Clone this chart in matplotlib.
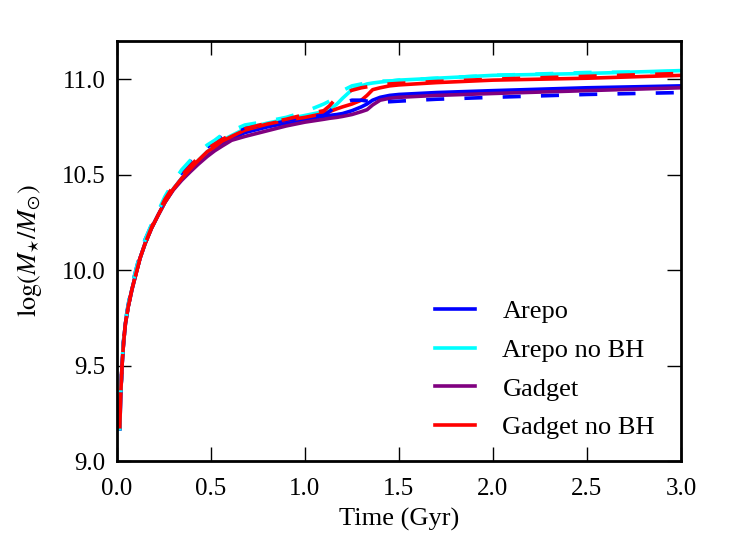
import matplotlib
matplotlib.use('Agg')
import matplotlib.pyplot as plt
import numpy as np

plt.rcParams['font.family'] = ['Liberation Serif', 'DejaVu Serif']
plt.rcParams['mathtext.fontset'] = 'stix'

# time grid (Gyr)
t = [0.015, 0.02, 0.027, 0.035, 0.045, 0.06, 0.08, 0.106, 0.122, 0.15, 0.184, 0.22, 0.255,
     0.3, 0.344, 0.39, 0.433, 0.48, 0.52, 0.56, 0.61, 0.68, 0.8, 0.9,
     1.0, 1.1, 1.13, 1.17, 1.2, 1.25, 1.3, 1.33, 1.36, 1.4, 1.45, 1.5, 1.7, 2.0, 2.5, 3.0]

# solid runs
arepo = [9.17, 9.35, 9.50, 9.62, 9.72, 9.81, 9.90, 10.00, 10.06, 10.14, 10.22, 10.29, 10.355,
         10.425, 10.48, 10.53, 10.57, 10.61, 10.64, 10.665, 10.69, 10.72, 10.75, 10.77,
         10.79, 10.805, 10.81, 10.815, 10.82, 10.835, 10.855, 10.87, 10.89, 10.905, 10.915, 10.92, 10.93, 10.94, 10.955, 10.965]
arepo_nobh = [9.17, 9.35, 9.50, 9.62, 9.72, 9.81, 9.90, 10.00, 10.06, 10.14, 10.22, 10.29, 10.355,
              10.425, 10.48, 10.53, 10.575, 10.62, 10.65, 10.68, 10.705, 10.74, 10.77, 10.79,
              10.81, 10.83, 10.84, 10.87, 10.90, 10.945, 10.965, 10.975, 10.98, 10.985, 10.99, 10.995, 11.005, 11.02, 11.03, 11.045]
gadget = [9.18, 9.35, 9.50, 9.62, 9.72, 9.81, 9.90, 10.00, 10.06, 10.14, 10.22, 10.29, 10.355,
          10.42, 10.47, 10.515, 10.555, 10.595, 10.625, 10.65, 10.68, 10.70, 10.73, 10.755,
          10.775, 10.79, 10.795, 10.80, 10.805, 10.815, 10.83, 10.84, 10.865, 10.89, 10.90, 10.905, 10.915, 10.925, 10.94, 10.955]
gadget_nobh = [9.17, 9.35, 9.50, 9.62, 9.72, 9.81, 9.90, 10.00, 10.06, 10.14, 10.22, 10.29, 10.355,
               10.425, 10.48, 10.53, 10.575, 10.62, 10.646, 10.675, 10.70, 10.733, 10.765, 10.785,
               10.80, 10.82, 10.83, 10.845, 10.855, 10.87, 10.89, 10.915, 10.945, 10.955, 10.965, 10.97, 10.982, 10.995, 11.005, 11.02]

# dashed runs
arepo_d = [9.16, 9.35, 9.51, 9.63, 9.73, 9.82, 9.92, 10.02, 10.08, 10.16, 10.235, 10.30, 10.375,
           10.45, 10.51, 10.565, 10.605, 10.645, 10.67, 10.70, 10.72, 10.745, 10.765, 10.785,
           10.80, 10.81, 10.83, 10.865, 10.875, 10.89, 10.89, 10.885, 10.88, 10.88, 10.882, 10.885, 10.895, 10.905, 10.92, 10.93]
arepo_nobh_d = [9.16, 9.35, 9.51, 9.63, 9.73, 9.82, 9.92, 10.02, 10.08, 10.16, 10.24, 10.31, 10.385,
                10.46, 10.525, 10.575, 10.615, 10.655, 10.68, 10.71, 10.73, 10.76, 10.78, 10.80,
                10.83, 10.87, 10.885, 10.91, 10.94, 10.965, 10.975, 10.98, 10.985, 10.99, 10.99, 10.995, 11.005, 11.02, 11.035, 11.04]
gadget_nobh_d = [9.17, 9.35, 9.50, 9.62, 9.72, 9.81, 9.90, 10.00, 10.06, 10.14, 10.225, 10.30, 10.37,
                 10.44, 10.495, 10.545, 10.59, 10.635, 10.66, 10.685, 10.71, 10.74, 10.77, 10.79,
                 10.815, 10.835, 10.86, 10.905, 10.925, 10.942, 10.955, 10.96, 10.965, 10.97, 10.975, 10.978, 10.988, 11.0, 11.015, 11.03]

fig = plt.figure(figsize=(7.31, 5.51), dpi=100)
ax = fig.add_axes([0.16, 0.1633, 0.7716, 0.7623])

lw = 2.6
ax.plot(t, arepo, color='blue', lw=lw, label='Arepo')
ax.plot(t, arepo_nobh, color='cyan', lw=lw, label='Arepo no BH')
ax.plot(t, gadget, color='purple', lw=lw, label='Gadget')
ax.plot(t, gadget_nobh, color='red', lw=lw, label='Gadget no BH')
ax.plot(t, arepo_d, color='blue', lw=lw, dashes=(5, 5.6))
ax.plot(t, arepo_nobh_d, color='cyan', lw=lw, dashes=(5, 5.6))
ax.plot(t, gadget_nobh_d, color='red', lw=lw, dashes=(5, 5.6))

ax.set_xlim(0, 3)
ax.set_ylim(9.0, 11.2)
ax.set_xticks([0.0, 0.5, 1.0, 1.5, 2.0, 2.5, 3.0])
ax.set_yticks([9.0, 9.5, 10.0, 10.5, 11.0])
ax.xaxis.set_major_formatter(matplotlib.ticker.FormatStrFormatter('%.1f'))
ax.yaxis.set_major_formatter(matplotlib.ticker.FormatStrFormatter('%.1f'))
ax.tick_params(direction='in', top=True, right=True, length=10, width=1, labelsize=18)
ax.tick_params(axis='x', pad=12)
ax.tick_params(axis='y', pad=8)
for s in ax.spines.values():
    s.set_linewidth(2)

ax.set_xlabel('Time (Gyr)', fontsize=19, labelpad=6)
ax.set_ylabel(r'$\log(M_{\star}/M_{\odot})$', fontsize=19, labelpad=13)

ax.legend(loc='lower right', frameon=False, fontsize=19, handlelength=1.5,
          handletextpad=1.05, labelspacing=0.58, bbox_to_anchor=(0.996, -0.005))

fig.savefig('out.png', dpi=100)
